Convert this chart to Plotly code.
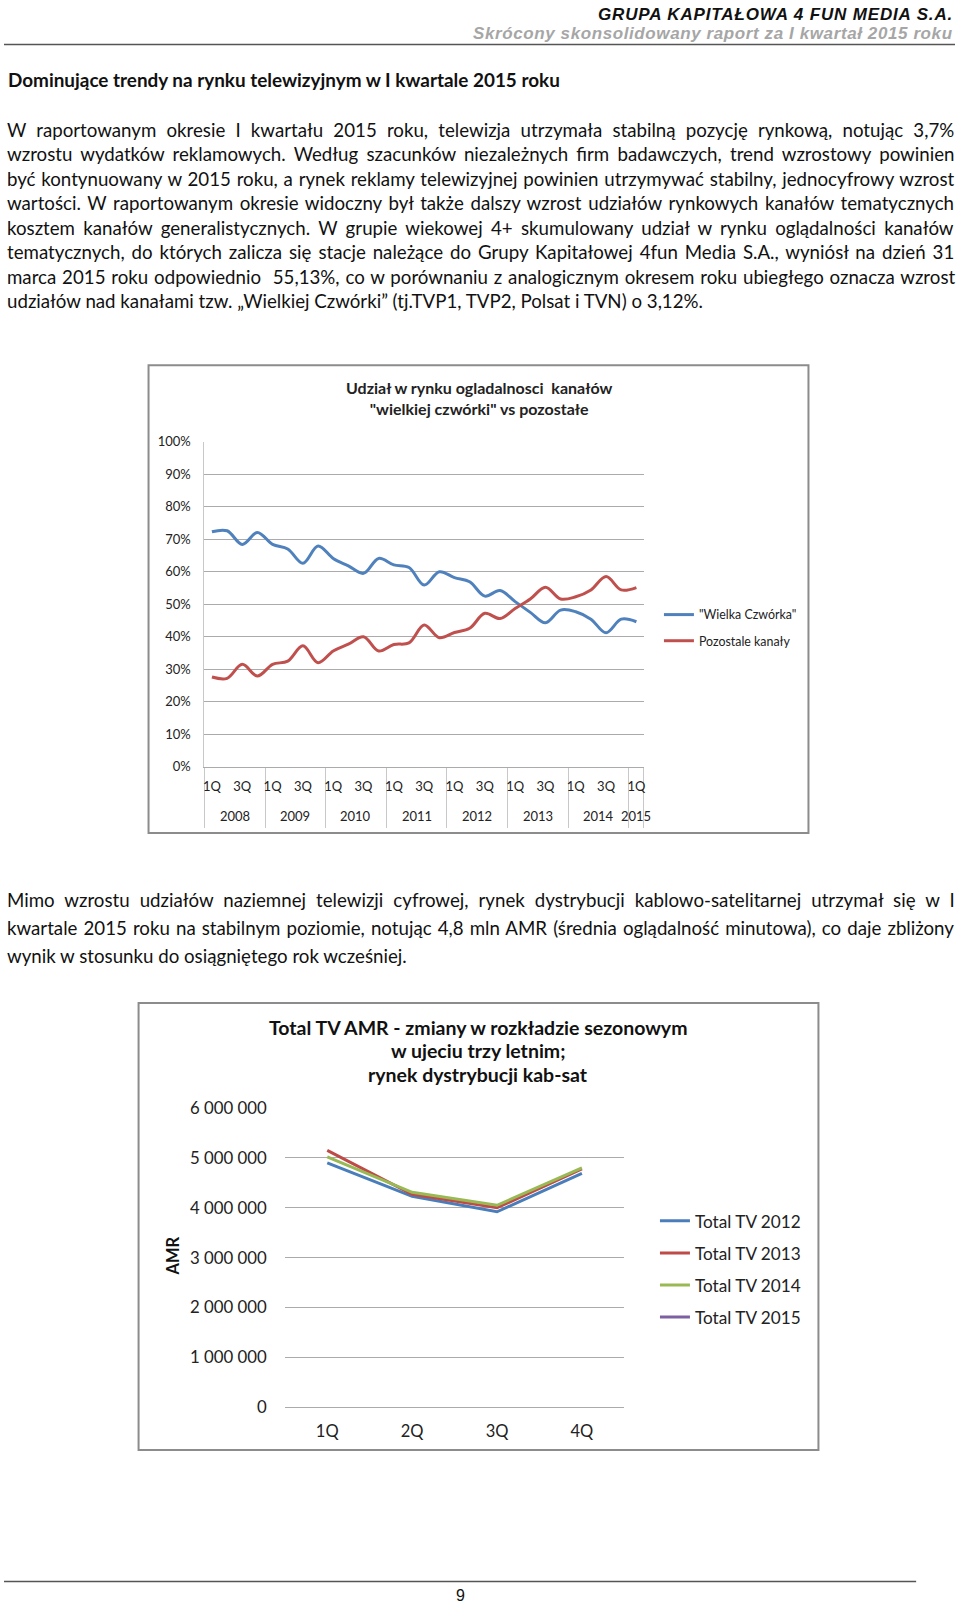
import plotly.graph_objects as go

W, H = 960, 1605
# the photographed page is offset/compressed vertically: photo_y = A + B * layout_y
A, B = 7.92, 0.990


def px(x):
    return x / W


def py(y):
    return 1 - ((y - A) / B) / H


# ---------------- data: chart 1 ----------------
YEARS = ["2008", "2009", "2010", "2011", "2012", "2013", "2014", "2015"]
QUARTERS = ["1Q", "2Q", "3Q", "4Q"]
SHOWN_QUARTERS = ["1Q", "3Q"]
PERIODS = [(y, q) for y in YEARS[:-1] for q in QUARTERS] + [("2015", "1Q")]

BIG4 = [0.723, 0.726, 0.684, 0.721, 0.684, 0.670, 0.626, 0.679, 0.641, 0.618,
        0.595, 0.641, 0.621, 0.613, 0.559, 0.600, 0.582, 0.569, 0.525, 0.542,
        0.508, 0.475, 0.443, 0.482, 0.477, 0.454, 0.412, 0.454, 0.446]
OTHERS = [0.276, 0.272, 0.315, 0.279, 0.315, 0.325, 0.372, 0.320, 0.356, 0.377,
          0.400, 0.356, 0.376, 0.381, 0.436, 0.397, 0.413, 0.426, 0.472, 0.456,
          0.487, 0.516, 0.552, 0.516, 0.523, 0.544, 0.585, 0.544, 0.5513]
SERIES1_LEGEND = ["\"Wielka Czwórka\"", "Pozostale kanały"]
COLORS1 = ["#4F81BD", "#C0504D"]

# ---------------- data: chart 2 ----------------
QTRS2 = ["1Q", "2Q", "3Q", "4Q"]
TV2012 = [4900000, 4230000, 3920000, 4690000]
TV2013 = [5150000, 4270000, 4000000, 4780000]
TV2014 = [5020000, 4310000, 4050000, 4800000]
TV2015 = [4950000, None, None, None]
SERIES2 = ["Total TV 2012", "Total TV 2013", "Total TV 2014", "Total TV 2015"]
COLORS2 = ["#4A7EBB", "#BE4B48", "#98B954", "#7D60A0"]

# ---------------- texts ----------------
HEADER1 = "GRUPA KAPITAŁOWA 4 FUN MEDIA S.A."
HEADER2 = "Skrócony skonsolidowany raport za I kwartał 2015 roku"
HEADING = "Dominujące trendy na rynku telewizyjnym w I kwartale 2015 roku"
PARA1 = [
    "W raportowanym okresie I kwartału 2015 roku, telewizja utrzymała stabilną pozycję rynkową, notując 3,7%",
    "wzrostu wydatków reklamowych. Według szacunków niezależnych firm badawczych, trend wzrostowy powinien",
    "być kontynuowany w 2015 roku, a rynek reklamy telewizyjnej powinien utrzymywać stabilny, jednocyfrowy wzrost",
    "wartości. W raportowanym okresie widoczny był także dalszy wzrost udziałów rynkowych kanałów tematycznych",
    "kosztem kanałów generalistycznych. W grupie wiekowej 4+ skumulowany udział w rynku oglądalności kanałów",
    "tematycznych, do których zalicza się stacje należące do Grupy Kapitałowej 4fun Media S.A., wyniósł na dzień 31",
    "marca 2015 roku odpowiednio  55,13%, co w porównaniu z analogicznym okresem roku ubiegłego oznacza wzrost",
    "udziałów nad kanałami tzw. „Wielkiej Czwórki” (tj.TVP1, TVP2, Polsat i TVN) o 3,12%.",
]
PARA1_WORDSPACING = [5.4, 3.45, 1.0, 1.9, 3.55, 2.15, 1.05, 0]
PARA2 = [
    "Mimo wzrostu udziałów naziemnej telewizji cyfrowej, rynek dystrybucji kablowo-satelitarnej utrzymał się w I",
    "kwartale 2015 roku na stabilnym poziomie, notując 4,8 mln AMR (średnia oglądalność minutowa), co daje zbliżony",
    "wynik w stosunku do osiągniętego rok wcześniej.",
]
PARA2_WORDSPACING = [5.25, 1.3, 0]
TITLE1 = "Udział w rynku ogladalnosci  kanałów<br>\"wielkiej czwórki\" vs pozostałe"
TITLE2_LINES = ["Total TV AMR - zmiany w rozkładzie sezonowym", "w ujeciu trzy letnim;", "rynek dystrybucji kab-sat"]
PAGE_NO = "9"

FONT = "Lato, 'Open Sans', sans-serif"
NARROW = "'Liberation Sans Narrow', 'Arial Narrow', 'Liberation Sans', sans-serif"
GRID = "#ABABAB"

fig = go.Figure()

# ---------------- chart 1 traces ----------------
xi = list(range(len(PERIODS)))
for leg, vals, col in zip(SERIES1_LEGEND, [BIG4, OTHERS], COLORS1):
    fig.add_trace(go.Scatter(
        x=xi, y=vals, name=leg, mode="lines",
        line=dict(color=col, width=3, shape="spline", smoothing=1.0),
        xaxis="x", yaxis="y", legend="legend", legendgroup=leg,
    ))

tickvals1 = [i for i, (y, q) in enumerate(PERIODS) if q in SHOWN_QUARTERS]
ticktext1 = [PERIODS[i][1] for i in tickvals1]
bounds = []
centers = {}
for yr in YEARS:
    idx = [i for i, (y, q) in enumerate(PERIODS) if y == yr]
    bounds.append(idx[0] - 0.5)
    centers[yr] = sum(idx) / len(idx)
bounds.append(len(PERIODS) - 0.5)

# ---------------- chart 2 traces ----------------
for name, vals, col in zip(SERIES2, [TV2012, TV2013, TV2014, TV2015], COLORS2):
    fig.add_trace(go.Scatter(
        x=QTRS2, y=vals, name=name, mode="lines",
        line=dict(color=col, width=3),
        xaxis="x2", yaxis="y2", legend="legend2", legendgroup=name,
    ))

fig.update_layout(
    width=W, height=H,
    margin=dict(l=0, r=0, t=0, b=0),
    paper_bgcolor="white", plot_bgcolor="white",
    separators=", ",
    font=dict(family=FONT, color="#222222"),
    xaxis=dict(
        domain=[px(204), px(645)], anchor="y",
        range=[-0.5, len(PERIODS) - 0.5],
        tickmode="array", tickvals=tickvals1, ticktext=ticktext1,
        ticks="", showgrid=False, zeroline=False,
        showline=True, linecolor=GRID, linewidth=1,
        tickfont=dict(size=13, family=FONT, color="#222"),
        tickangle=0, ticklabelstandoff=8,
        minor=dict(tickmode="array", tickvals=bounds, ticks="outside",
                   ticklen=60, tickcolor="#C8C8C8", tickwidth=1, showgrid=False),
    ),
    yaxis=dict(
        domain=[py(766), py(440)], anchor="x",
        range=[0, 1], dtick=0.1, tickformat=".0%",
        showgrid=True, gridcolor=GRID, gridwidth=1, zeroline=False,
        showline=True, linecolor="#C8C8C8", linewidth=1,
        ticks="", tickfont=dict(size=13, family=FONT, color="#222"),
        ticklabelstandoff=10,
    ),
    xaxis2=dict(
        domain=[px(284.7), px(625.3)], anchor="y2",
        type="category", range=[-0.5, 3.5],
        ticks="", showgrid=False, zeroline=False,
        showline=True, linecolor=GRID, linewidth=1,
        tickfont=dict(size=16.5, family=FONT, color="#222"),
        ticklabelstandoff=9,
    ),
    yaxis2=dict(
        domain=[py(1408.7), py(1108.3)], anchor="x2",
        range=[0, 6000000], dtick=1000000, tickformat=",d",
        showgrid=True, gridcolor=GRID, gridwidth=1, zeroline=False,
        showline=False, ticks="",
        tickfont=dict(size=16.8, family=FONT, color="#222"),
        ticklabelstandoff=17,
    ),
    legend=dict(
        x=px(660), y=py(598.8), xanchor="left", yanchor="top",
        font=dict(size=12.4, family=FONT, color="#222"),
        bgcolor="rgba(0,0,0,0)", tracegroupgap=7, itemwidth=30,
    ),
    legend2=dict(
        x=px(656), y=py(1203.8), xanchor="left", yanchor="top",
        font=dict(size=17.2, family=FONT, color="#222"),
        bgcolor="rgba(0,0,0,0)", tracegroupgap=6.7, itemwidth=30,
    ),
    showlegend=True,
)

shapes = [
    dict(type="line", xref="paper", yref="paper", x0=px(3), x1=px(957), y0=py(41.5), y1=py(41.5),
         line=dict(color="#555555", width=1.5)),
    dict(type="rect", xref="paper", yref="paper", x0=px(148), x1=px(810), y0=py(363.3), y1=py(832.5),
         line=dict(color="#8C8C8C", width=2)),
    dict(type="rect", xref="paper", yref="paper", x0=px(138), x1=px(820), y0=py(1003), y1=py(1451.5),
         line=dict(color="#8C8C8C", width=2)),
    dict(type="line", xref="paper", yref="paper", x0=px(3), x1=px(918), y0=py(1583.3), y1=py(1583.3),
         line=dict(color="#555555", width=1.5)),
]
fig.update_layout(shapes=shapes)

TDY = -2.0  # rendered text sits slightly below its anchor

ann = []
ann.append(dict(text="<span style='letter-spacing:0.85px'><b><i>" + HEADER1 + "</i></b></span>",
                x=px(957), y=py(11.2), xanchor="right", yanchor="middle",
                font=dict(family=NARROW, size=17, color="#111")))
ann.append(dict(text="<span style='letter-spacing:0.6px'><b><i>" + HEADER2 + "</i></b></span>",
                x=px(957), y=py(30.4), xanchor="right", yanchor="middle",
                font=dict(family=NARROW, size=17, color="#A6A6A6")))
ann.append(dict(text="<b>" + HEADING + "</b>", x=px(5), y=py(78.8 + TDY), xanchor="left", yanchor="middle",
                font=dict(family=FONT, size=18.9, color="#111")))
for i, (line, ws) in enumerate(zip(PARA1, PARA1_WORDSPACING)):
    ann.append(dict(text="<span style='word-spacing:%.2fpx'>%s</span>" % (ws, line),
                    x=px(4), y=py(129 + i * 24.56 + TDY), xanchor="left", yanchor="middle",
                    font=dict(family=FONT, size=18.7, color="#111")))
for i, (line, ws) in enumerate(zip(PARA2, PARA2_WORDSPACING)):
    ann.append(dict(text="<span style='word-spacing:%.2fpx'>%s</span>" % (ws, line),
                    x=px(4), y=py(901.5 + i * 28.3 + TDY), xanchor="left", yanchor="middle",
                    font=dict(family=FONT, size=18.7, color="#111")))
ann.append(dict(text="<b>" + TITLE1 + "</b>", x=px(479), y=py(396.5), xanchor="center", yanchor="middle",
                font=dict(family=FONT, size=16, color="#222")))
for i, t in enumerate(TITLE2_LINES):
    ann.append(dict(text="<b>" + t + "</b>", x=px(478), y=py(1027.6 + i * 23.5), xanchor="center", yanchor="middle",
                    font=dict(family=FONT, size=19.5, color="#111")))
ann.append(dict(text="<b>AMR</b>", x=px(173), y=py(1256.9), xanchor="center", yanchor="middle", textangle=-90,
                font=dict(family=FONT, size=16.5, color="#111")))
for yr in YEARS:
    ann.append(dict(text=yr, x=centers[yr], xref="x", y=py(815.8), yref="paper", xanchor="center", yanchor="middle",
                    showarrow=False, font=dict(family=FONT, size=13, color="#222")))
ann.append(dict(text=PAGE_NO, x=px(461), y=py(1597.3), xanchor="center", yanchor="middle",
                font=dict(family=NARROW, size=16, color="#111")))
for a in ann:
    a.setdefault("xref", "paper")
    a.setdefault("yref", "paper")
    a["showarrow"] = False
fig.update_layout(annotations=ann)

POST = (
    "var s=document.createElement('style');"
    "s.innerHTML='html,body{margin:0 !important;padding:0 !important;overflow:hidden;}';"
    "document.head.appendChild(s);"
    "document.body.style.margin='0';"
)
fig.write_html("out.html", config={"displayModeBar": False}, post_script=POST)
